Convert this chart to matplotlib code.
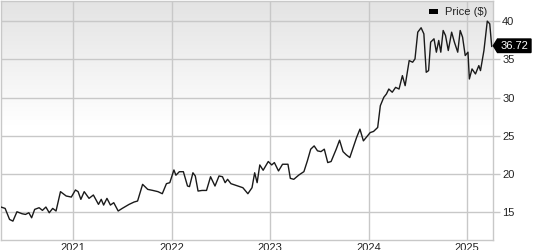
import matplotlib
matplotlib.use("Agg")
import matplotlib.pyplot as plt
import numpy as np

# decimal years and prices
years = [2020.255, 2020.307, 2020.352, 2020.386, 2020.427, 2020.479, 2020.514, 2020.548, 2020.576,
         2020.607, 2020.652, 2020.686, 2020.721, 2020.755, 2020.790, 2020.824, 2020.869, 2020.927,
         2020.979, 2021.021, 2021.048, 2021.076, 2021.110, 2021.159, 2021.203, 2021.255, 2021.283,
         2021.307, 2021.341, 2021.376, 2021.410, 2021.455, 2021.496, 2021.566, 2021.617, 2021.652,
         2021.703, 2021.755, 2021.807, 2021.859, 2021.903, 2021.945, 2021.979, 2022.021, 2022.041,
         2022.076, 2022.117, 2022.159, 2022.179, 2022.214, 2022.238, 2022.266, 2022.307, 2022.352,
         2022.393, 2022.438, 2022.479, 2022.514, 2022.541, 2022.566, 2022.600, 2022.669, 2022.721,
         2022.772, 2022.814, 2022.841, 2022.866, 2022.893, 2022.927, 2022.979, 2023.014, 2023.041,
         2023.083, 2023.124, 2023.179, 2023.203, 2023.238, 2023.290, 2023.341, 2023.376, 2023.410,
         2023.445, 2023.479, 2023.514, 2023.548, 2023.583, 2023.617, 2023.669, 2023.703, 2023.738,
         2023.772, 2023.807, 2023.841, 2023.876, 2023.910, 2023.945, 2023.979, 2024.014, 2024.048,
         2024.090, 2024.117, 2024.152, 2024.179, 2024.203, 2024.238, 2024.272, 2024.307, 2024.341,
         2024.369, 2024.410, 2024.445, 2024.469, 2024.497, 2024.531, 2024.559, 2024.583, 2024.607,
         2024.628, 2024.662, 2024.686, 2024.710, 2024.731, 2024.755, 2024.779, 2024.807, 2024.841,
         2024.869, 2024.903, 2024.928, 2024.952, 2024.979, 2025.007, 2025.021, 2025.048, 2025.083,
         2025.117, 2025.134, 2025.169, 2025.203, 2025.228, 2025.248]
prices = [15.66, 15.44, 13.99, 13.77, 15.00, 14.74, 14.65, 14.87, 14.21,
          15.31, 15.53, 15.18, 15.62, 14.87, 15.44, 15.10, 17.64, 17.07,
          16.93, 17.86, 17.64, 16.63, 17.64, 16.76, 17.20, 15.97, 16.63,
          15.88, 16.76, 15.88, 16.19, 15.10, 15.44, 15.97, 16.28, 16.41,
          18.60, 17.94, 17.80, 17.64, 17.37, 18.69, 18.82, 20.49, 19.80,
          20.26, 20.26, 18.38, 18.30, 20.12, 19.70, 17.72, 17.80, 17.80,
          19.60, 18.38, 19.70, 19.60, 18.82, 19.26, 18.69, 18.38, 18.16,
          17.37, 18.16, 20.12, 18.82, 21.15, 20.45, 21.60, 21.15, 21.46,
          20.36, 21.24, 21.24, 19.39, 19.26, 19.83, 20.27, 21.68, 23.22,
          23.65, 23.00, 22.90, 23.22, 21.46, 21.60, 23.22, 24.40, 22.90,
          22.47, 22.12, 23.44, 24.76, 25.85, 24.31, 24.84, 25.40, 25.55,
          26.07, 28.93, 30.03, 30.47, 31.12, 30.70, 31.34, 31.12, 32.88,
          31.56, 34.86, 34.64, 35.08, 38.59, 39.17, 38.37, 33.32, 33.54,
          37.28, 37.72, 35.96, 37.50, 35.96, 38.81, 38.15, 36.18, 38.59,
          37.28, 35.96, 38.81, 37.94, 35.52, 35.96, 32.44, 33.76, 33.10,
          34.20, 33.54, 36.18, 40.04, 39.69, 36.72]
year_ticks = [2021, 2022, 2023, 2024, 2025]
price_ticks = [15, 20, 25, 30, 35, 40]
last_label = "36.72"
legend_label = "Price ($)"

plt.rcParams['font.family'] = ['Liberation Sans', 'DejaVu Sans']

W, H = 533, 250
fig = plt.figure(figsize=(W / 100, H / 100), dpi=100)
ax = fig.add_axes([0.5 / W, 1 - 240.3 / H, 492 / W, 240.3 / H - 0.5 / H])

x0, x1 = 2020.26, 2025.256
y0, y1 = 11.25, 42.75

# gradient background (row 0 = top)
n = 256
col_top = np.array([0.89, 0.89, 0.89])
frac = np.clip(np.linspace(0, 1, n) / 0.52, 0, 1)
img = np.ones((n, 1, 3))
for i in range(n):
    img[i, 0, :] = col_top + (1 - col_top) * frac[i]
ax.imshow(img, extent=[x0, x1, y0, y1], aspect='auto', zorder=0, origin='upper',
          interpolation='bilinear')
ax.set_xlim(x0, x1)
ax.set_ylim(y0, y1)

gc = '#c8c8c8'
for t in year_ticks:
    ax.axvline(t, color=gc, lw=1.0, zorder=1)
for t in price_ticks:
    ax.axhline(t, color=gc, lw=1.0, zorder=1)

ax.plot(years, prices, color='#1a1a1a', lw=1.0, zorder=3, solid_joinstyle='round')

for s in ax.spines.values():
    s.set_color(gc)
    s.set_linewidth(1.0)

ax.yaxis.tick_right()
ax.set_yticks(price_ticks)
ax.set_yticklabels([str(t) for t in price_ticks])
ax.set_xticks(year_ticks)
ax.set_xticklabels([str(t) for t in year_ticks])
ax.tick_params(axis='y', length=5, width=1, color=gc, labelsize=8, pad=2, labelcolor='#222222')
ax.tick_params(axis='x', length=0, labelsize=8, pad=2, labelcolor='#222222')

# last price label with arrow
px = 493.3
py = 45.7
box_l, box_r, box_t, box_b = 497.5, 531, 39, 52.5
verts = [(px, py), (box_l, box_t), (box_r, box_t), (box_r, box_b), (box_l, box_b)]
verts_fig = [(vx / W, 1 - vy / H) for vx, vy in verts]
poly = plt.Polygon(verts_fig, closed=True, transform=fig.transFigure, facecolor='black',
                   edgecolor='black', zorder=5, clip_on=False)
ax.add_artist(poly)
ax.text((box_l + box_r) / 2 / W + 0.5 / W, 1 - (box_t + box_b) / 2 / H, last_label,
        transform=fig.transFigure, color='white', fontsize=8, ha='center', va='center',
        zorder=6, clip_on=False)

# legend
leg = plt.Rectangle((429 / W, 1 - 13.5 / H), 9 / W, 4 / H, transform=fig.transFigure,
                    facecolor='black', edgecolor='none', zorder=6, clip_on=False)
ax.add_artist(leg)
ax.text(445 / W, 1 - 12 / H, legend_label, transform=fig.transFigure, fontsize=8,
        ha='left', va='center', color='#222222', zorder=6, clip_on=False)

fig.savefig('out.png', dpi=100)
